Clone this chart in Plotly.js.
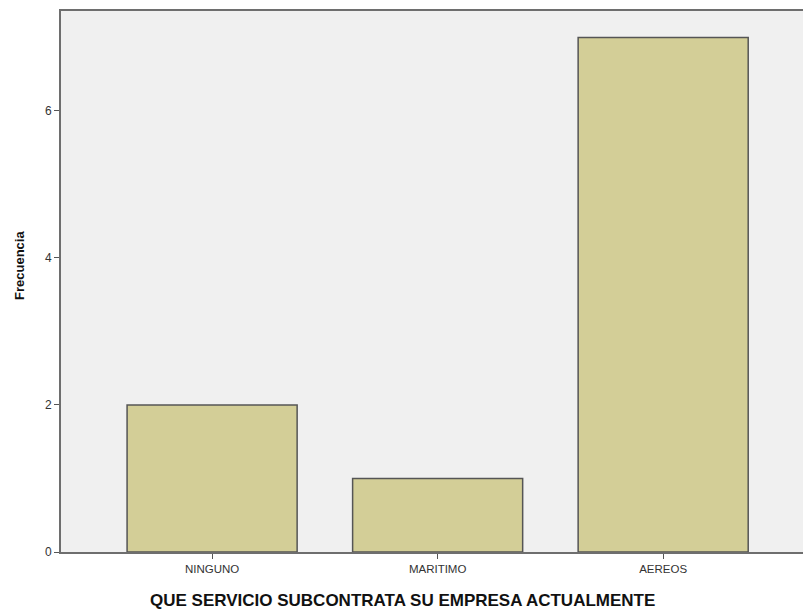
<!DOCTYPE html>
<html>
<head>
<meta charset="utf-8">
<script src="https://cdn.plot.ly/plotly-3.0.1.min.js"></script>
<style>html,body{margin:0;padding:0;background:#fff;}#chart{width:803px;height:612px;}</style>
</head>
<body>
<div id="chart"></div>
<script>
var categories = ["NINGUNO", "MARITIMO", "AEREOS"];
var frequencies = [2, 1, 7];
var yTicks = [0, 2, 4, 6];
var xTitle = "QUE SERVICIO SUBCONTRATA SU EMPRESA ACTUALMENTE";
var yTitle = "Frecuencia";

var trace = {
  type: "bar",
  x: categories,
  y: frequencies,
  width: 0.754,
  marker: {color: "#D3CE97", line: {color: "#555555", width: 1.5}},
  hoverinfo: "x+y"
};

var layout = {
  width: 803, height: 612,
  margin: {l: 61, r: 0, t: 11, b: 60},
  paper_bgcolor: "#FFFFFF",
  plot_bgcolor: "#F0F0F0",
  showlegend: false,
  font: {family: "Liberation Sans, Arial, sans-serif", color: "#222"},
  xaxis: {
    type: "category",
    range: [-0.67, 2.62],
    showgrid: false, zeroline: false,
    showline: true, linecolor: "#6E6E6E", linewidth: 2, mirror: true,
    ticks: "outside", ticklen: 5, tickcolor: "#555", tickwidth: 1,
    tickfont: {size: 11.5, color: "#333"}
  },
  yaxis: {
    range: [0, 7.36],
    tickvals: yTicks,
    ticktext: yTicks.map(String),
    showgrid: false, zeroline: false,
    showline: true, linecolor: "#6E6E6E", linewidth: 2,
    ticks: "outside", ticklen: 5, tickcolor: "#555", tickwidth: 1,
    tickfont: {size: 12, color: "#333"}
  },
  annotations: [
    {text: xTitle, xref: "paper", yref: "paper", x: 0.4596, y: 0, xanchor: "center", yanchor: "middle",
     yshift: -48, showarrow: false, font: {size: 17, color: "#111", weight: "bold"}},
    {text: yTitle, xref: "paper", yref: "paper", x: 0, y: 0.5287, xanchor: "center", yanchor: "middle",
     xshift: -41, textangle: -90, showarrow: false, font: {size: 13, color: "#111", weight: "bold"}}
  ]
};

Plotly.newPlot("chart", [trace], layout, {displayModeBar: false, staticPlot: true});
</script>
</body>
</html>
